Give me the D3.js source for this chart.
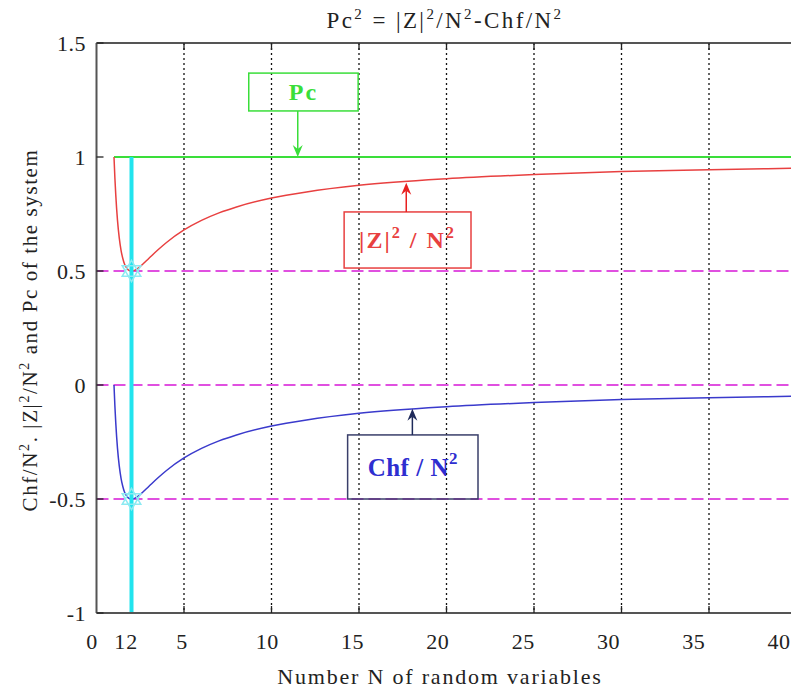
<!DOCTYPE html>
<html>
<head>
<meta charset="utf-8">
<script src="https://cdn.jsdelivr.net/npm/d3@7"></script>
<style>
  body { margin: 0; background: #fff; }
  svg { display: block; font-family: "Liberation Serif", "DejaVu Serif", serif; }
</style>
</head>
<body>
<svg id="chart" width="791" height="693"></svg>
<script>
// values
const nVals   = [1, 1.05, 1.1, 1.2, 1.3, 1.4, 1.5, 1.6, 1.7, 1.8, 1.9, 2, 2.2, 2.5, 3, 3.5, 4, 5, 6, 7, 8, 10, 12, 15, 20, 25, 30, 35, 40];
const chfVals = [0, -0.091, -0.165, -0.278, -0.355, -0.408, -0.444, -0.469, -0.484, -0.494, -0.499, -0.5, -0.496, -0.48, -0.444, -0.408, -0.375, -0.32, -0.278, -0.245, -0.219, -0.18, -0.153, -0.124, -0.095, -0.077, -0.064, -0.056, -0.049];
const zVals   = [1, 0.909, 0.835, 0.722, 0.645, 0.592, 0.556, 0.531, 0.516, 0.506, 0.501, 0.5, 0.504, 0.52, 0.556, 0.592, 0.625, 0.68, 0.722, 0.755, 0.781, 0.82, 0.847, 0.876, 0.905, 0.923, 0.936, 0.944, 0.951];
const pcVals  = [[1, 1], [40, 1]];
const refLevels = [0.5, 0, -0.5];
const markN = 2;
const markLevels = [0.5, -0.5];
const xTicks = [0, 1, 2, 5, 10, 15, 20, 25, 30, 35, 40];
const gridTicks = [5, 10, 15, 20, 25, 30, 35, 40];
const yTicks = [1.5, 1, 0.5, 0, -0.5, -1];

const svg = d3.select("#chart");

const x = d3.scaleLinear().domain([0, 40]).range([96.5, 796.5]);
const y = d3.scaleLinear().domain([-1, 1.5]).range([613, 43]);
// tick labels in the scan sit slightly off the grid
const xLab = d3.scaleLinear().domain([0, 1, 2, 5, 40]).range([92, 120, 132, 182, 779]);

const line = d3.line().x(d => x(d[0])).y(d => y(d[1]));

// dotted vertical grid
svg.append("g").selectAll("line")
  .data(gridTicks).enter().append("line")
    .attr("x1", d => x(d)).attr("x2", d => x(d))
    .attr("y1", y(1.5)).attr("y2", y(-1))
    .attr("stroke", "#111").attr("stroke-width", 1.3)
    .attr("stroke-dasharray", "2,3");

// magenta reference levels
svg.append("g").selectAll("line")
  .data(refLevels).enter().append("line")
    .attr("x1", x(0)).attr("x2", x(40))
    .attr("y1", d => y(d)).attr("y2", d => y(d))
    .attr("stroke", "#e050e0").attr("stroke-width", 2)
    .attr("stroke-dasharray", "12,5");

// Pc line
svg.append("path").datum(pcVals)
  .attr("d", line).attr("fill", "none")
  .attr("stroke", "#3ade3a").attr("stroke-width", 1.8);

// |Z|^2/N^2
svg.append("path").datum(nVals.map((n, i) => [n, zVals[i]]))
  .attr("d", line.curve(d3.curveMonotoneX)).attr("fill", "none")
  .attr("stroke", "#e84040").attr("stroke-width", 1.5);

// Chf/N^2
svg.append("path").datum(nVals.map((n, i) => [n, chfVals[i]]))
  .attr("d", line.curve(d3.curveMonotoneX)).attr("fill", "none")
  .attr("stroke", "#3a3acc").attr("stroke-width", 1.5);

// cyan marker line
svg.append("line")
  .attr("x1", x(markN)).attr("x2", x(markN))
  .attr("y1", y(1)).attr("y2", y(-1))
  .attr("stroke", "#22e4ee").attr("stroke-width", 4);

// hexagram markers (two triangles)
const tri = d3.symbol().type(d3.symbolTriangle).size(150);
markLevels.forEach(v => {
  [0, 180].forEach(r => {
    svg.append("path").attr("d", tri())
      .attr("transform", "translate(" + x(markN) + "," + y(v) + ") rotate(" + r + ")")
      .attr("fill", "none").attr("stroke", "#8ceaf2").attr("stroke-width", 1.5);
  });
});

// axes box (left, top, bottom)
const axisColor = "#555";
svg.append("line").attr("x1", x(0)).attr("x2", x(0)).attr("y1", y(1.5)).attr("y2", y(-1))
  .attr("stroke", axisColor).attr("stroke-width", 2);
svg.append("line").attr("x1", x(0)).attr("x2", x(40)).attr("y1", y(1.5)).attr("y2", y(1.5))
  .attr("stroke", axisColor).attr("stroke-width", 2);
svg.append("line").attr("x1", x(0)).attr("x2", x(40)).attr("y1", y(-1)).attr("y2", y(-1))
  .attr("stroke", axisColor).attr("stroke-width", 2);

// inside ticks
svg.append("g").selectAll("line").data(yTicks).enter().append("line")
  .attr("x1", x(0)).attr("x2", x(0) + 7)
  .attr("y1", d => y(d)).attr("y2", d => y(d))
  .attr("stroke", "#222").attr("stroke-width", 1.3);
svg.append("g").selectAll("line").data(gridTicks).enter().append("line")
  .attr("x1", d => x(d)).attr("x2", d => x(d))
  .attr("y1", y(-1)).attr("y2", y(-1) - 7)
  .attr("stroke", "#222").attr("stroke-width", 1.3);
svg.append("g").selectAll("line").data(gridTicks).enter().append("line")
  .attr("x1", d => x(d)).attr("x2", d => x(d))
  .attr("y1", y(1.5)).attr("y2", y(1.5) + 7)
  .attr("stroke", "#222").attr("stroke-width", 1.3);

// tick labels
svg.append("g").selectAll("text").data(yTicks).enter().append("text")
  .attr("x", 86).attr("y", d => y(d) + 8)
  .attr("text-anchor", "end").attr("font-size", 22).attr("letter-spacing", 0.5).attr("fill", "#222")
  .text(d => d);
svg.append("g").selectAll("text").data(xTicks).enter().append("text")
  .attr("x", d => xLab(d)).attr("y", 649)
  .attr("text-anchor", "middle").attr("font-size", 22).attr("letter-spacing", 0.5).attr("fill", "#222")
  .text(d => d);

// axis titles
svg.append("text").attr("x", 440).attr("y", 684)
  .attr("text-anchor", "middle").attr("font-size", 22).attr("letter-spacing", 1.8).attr("fill", "#222")
  .text("Number N of random variables");

const yl = svg.append("text")
  .attr("transform", "translate(37,330) rotate(-90)")
  .attr("text-anchor", "middle").attr("font-size", 21).attr("letter-spacing", 1.6).attr("fill", "#222");
yl.append("tspan").text("Chf/N");
yl.append("tspan").attr("font-size", 14).attr("dy", -8).text("2");
yl.append("tspan").attr("dy", 8).text(". |Z|");
yl.append("tspan").attr("font-size", 14).attr("dy", -8).text("2");
yl.append("tspan").attr("dy", 8).text("/N");
yl.append("tspan").attr("font-size", 14).attr("dy", -8).text("2");
yl.append("tspan").attr("dy", 8).text(" and Pc of the system");

const tt = svg.append("text").attr("x", 445).attr("y", 28)
  .attr("text-anchor", "middle").attr("font-size", 23).attr("letter-spacing", 2.4).attr("fill", "#222");
tt.append("tspan").text("Pc");
tt.append("tspan").attr("font-size", 15).attr("dy", -9).text("2");
tt.append("tspan").attr("dy", 9).text(" = |Z|");
tt.append("tspan").attr("font-size", 15).attr("dy", -9).text("2");
tt.append("tspan").attr("dy", 9).text("/N");
tt.append("tspan").attr("font-size", 15).attr("dy", -9).text("2");
tt.append("tspan").attr("dy", 9).text("-Chf/N");
tt.append("tspan").attr("font-size", 15).attr("dy", -9).text("2");

// annotation boxes with arrows (data coordinates)
const notes = [
  { x0: 8.7, x1: 14.95, y0: 1.368, y1: 1.202, ax: 11.5, tip: 1, dir: 1,
    color: "#3ade3a", box: "#3ade3a", head: "#3ade3a", size: 24, ls: 2,
    parts: [["Pc", 0]] },
  { x0: 14.15, x1: 21.4, y0: 0.759, y1: 0.513, ax: 17.7, tip: 0.887, dir: -1,
    color: "#e84040", box: "#e84040", head: "#e82020", size: 24, ls: 2,
    parts: [["|Z|", 0], ["2", 1], [" / N", 0], ["2", 1]] },
  { x0: 14.35, x1: 21.8, y0: -0.219, y1: -0.5, ax: 18.05, tip: -0.104, dir: -1,
    color: "#2e2ed0", box: "#3a3f6a", head: "#1e2a5a", size: 25, ls: 0.5,
    parts: [["Chf / N", 0], ["2", 1]] }
];

notes.forEach(n => {
  svg.append("rect")
    .attr("x", x(n.x0)).attr("y", y(n.y0))
    .attr("width", x(n.x1) - x(n.x0)).attr("height", y(n.y1) - y(n.y0))
    .attr("fill", "none").attr("stroke", n.box).attr("stroke-width", 1.5);
  const from = n.dir > 0 ? y(n.y1) : y(n.y0);
  const to = y(n.tip);
  const hx = x(n.ax);
  svg.append("line").attr("x1", hx).attr("x2", hx)
    .attr("y1", from).attr("y2", to - n.dir * 8)
    .attr("stroke", n.head).attr("stroke-width", 1.5);
  svg.append("path")
    .attr("d", "M" + hx + "," + to + "L" + (hx - 5) + "," + (to - n.dir * 12) +
      "L" + hx + "," + (to - n.dir * 8) + "L" + (hx + 5) + "," + (to - n.dir * 12) + "Z")
    .attr("fill", n.head);
  const t = svg.append("text")
    .attr("x", (x(n.x0) + x(n.x1)) / 2)
    .attr("y", (y(n.y0) + y(n.y1)) / 2 + n.size * 0.35)
    .attr("text-anchor", "middle").attr("font-size", n.size).attr("letter-spacing", n.ls)
    .attr("font-weight", "bold").attr("fill", n.color);
  n.parts.forEach(p => {
    const s = t.append("tspan").text(p[0]);
    if (p[1]) s.attr("font-size", n.size * 0.68).attr("dy", -n.size * 0.45);
    else if (t.selectAll("tspan").size() > 1) s.attr("dy", n.size * 0.45);
  });
});
</script>
</body>
</html>
